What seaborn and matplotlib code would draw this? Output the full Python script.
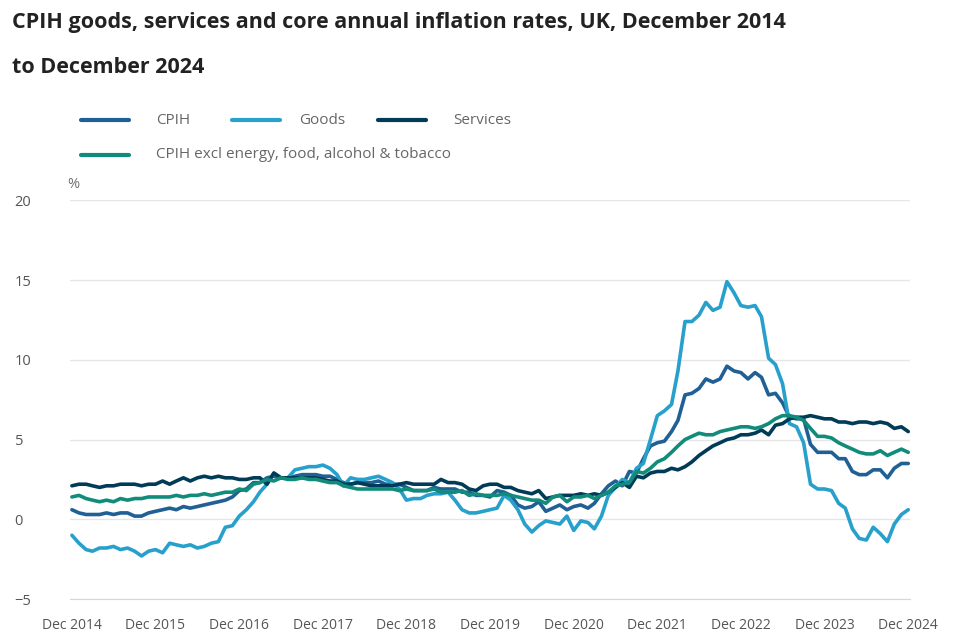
import numpy as np
import pandas as pd
import seaborn as sns
from matplotlib import pyplot as plt

months = pd.date_range('2014-12-01', '2024-12-01', freq='MS')

cpih = [0.6,
        0.4, 0.3, 0.3, 0.3, 0.4, 0.3, 0.4, 0.4, 0.2, 0.2, 0.4, 0.5,
        0.6, 0.7, 0.6, 0.8, 0.7, 0.8, 0.9, 1.0, 1.1, 1.2, 1.4, 1.8,
        1.9, 2.3, 2.3, 2.6, 2.7, 2.6, 2.6, 2.7, 2.8, 2.8, 2.8, 2.7,
        2.7, 2.5, 2.3, 2.2, 2.3, 2.3, 2.3, 2.4, 2.2, 2.2, 2.2, 2.0,
        1.8, 1.8, 1.8, 2.0, 1.9, 1.9, 1.9, 1.7, 1.7, 1.5, 1.5, 1.4,
        1.8, 1.7, 1.5, 0.9, 0.7, 0.8, 1.1, 0.5, 0.7, 0.9, 0.6, 0.8,
        0.9, 0.7, 1.0, 1.6, 2.1, 2.4, 2.1, 3.0, 2.9, 3.8, 4.6, 4.8,
        4.9, 5.5, 6.2, 7.8, 7.9, 8.2, 8.8, 8.6, 8.8, 9.6, 9.3, 9.2,
        8.8, 9.2, 8.9, 7.8, 7.9, 7.3, 6.4, 6.3, 6.3, 4.7, 4.2, 4.2,
        4.2, 3.8, 3.8, 3.0, 2.8, 2.8, 3.1, 3.1, 2.6, 3.2, 3.5, 3.5]

goods = [-1.0,
         -1.5, -1.9, -2.0, -1.8, -1.8, -1.7, -1.9, -1.8, -2.0, -2.3, -2.0, -1.9,
         -2.1, -1.5, -1.6, -1.7, -1.6, -1.8, -1.7, -1.5, -1.4, -0.5, -0.4, 0.2,
         0.6, 1.1, 1.7, 2.2, 2.9, 2.6, 2.6, 3.1, 3.2, 3.3, 3.3, 3.4,
         3.2, 2.8, 2.1, 2.6, 2.5, 2.5, 2.6, 2.7, 2.5, 2.3, 1.9, 1.2,
         1.3, 1.3, 1.5, 1.6, 1.6, 1.7, 1.2, 0.6, 0.4, 0.4, 0.5, 0.6,
         0.7, 1.5, 1.2, 0.6, -0.3, -0.8, -0.4, -0.1, -0.2, -0.3, 0.2, -0.7,
         -0.1, -0.2, -0.6, 0.2, 1.5, 2.0, 2.5, 2.3, 3.2, 3.5, 5.0, 6.5,
         6.8, 7.2, 9.3, 12.4, 12.4, 12.8, 13.6, 13.1, 13.3, 14.9, 14.2, 13.4,
         13.3, 13.4, 12.7, 10.1, 9.7, 8.5, 6.0, 5.8, 4.8, 2.2, 1.9, 1.9,
         1.8, 1.0, 0.7, -0.6, -1.2, -1.3, -0.5, -0.9, -1.4, -0.3, 0.3, 0.6]

services = [2.1,
            2.2, 2.2, 2.1, 2.0, 2.1, 2.1, 2.2, 2.2, 2.2, 2.1, 2.2, 2.2,
            2.4, 2.2, 2.4, 2.6, 2.4, 2.6, 2.7, 2.6, 2.7, 2.6, 2.6, 2.5,
            2.5, 2.6, 2.6, 2.2, 2.9, 2.6, 2.6, 2.6, 2.6, 2.6, 2.6, 2.5,
            2.4, 2.4, 2.2, 2.2, 2.3, 2.2, 2.1, 2.1, 2.1, 2.1, 2.2, 2.3,
            2.2, 2.2, 2.2, 2.2, 2.5, 2.3, 2.3, 2.2, 1.9, 1.8, 2.1, 2.2,
            2.2, 2.0, 2.0, 1.8, 1.7, 1.6, 1.8, 1.3, 1.4, 1.5, 1.5, 1.5,
            1.6, 1.5, 1.6, 1.5, 1.7, 2.0, 2.3, 2.0, 2.7, 2.6, 2.9, 3.0,
            3.0, 3.2, 3.1, 3.3, 3.6, 4.0, 4.3, 4.6, 4.8, 5.0, 5.1, 5.3,
            5.3, 5.4, 5.6, 5.3, 5.9, 6.0, 6.3, 6.4, 6.4, 6.5, 6.4, 6.3,
            6.3, 6.1, 6.1, 6.0, 6.1, 6.1, 6.0, 6.1, 6.0, 5.7, 5.8, 5.5]

core = [1.4,
        1.5, 1.3, 1.2, 1.1, 1.2, 1.1, 1.3, 1.2, 1.3, 1.3, 1.4, 1.4,
        1.4, 1.4, 1.5, 1.4, 1.5, 1.5, 1.6, 1.5, 1.6, 1.7, 1.7, 1.9,
        1.8, 2.2, 2.3, 2.5, 2.4, 2.6, 2.5, 2.5, 2.6, 2.5, 2.5, 2.4,
        2.3, 2.3, 2.1, 2.0, 1.9, 1.9, 1.9, 1.9, 1.9, 1.9, 1.8, 1.9,
        1.8, 1.8, 1.8, 1.9, 1.7, 1.7, 1.7, 1.8, 1.5, 1.6, 1.5, 1.5,
        1.5, 1.6, 1.5, 1.4, 1.3, 1.2, 1.2, 1.0, 1.4, 1.5, 1.1, 1.4,
        1.4, 1.5, 1.3, 1.5, 1.7, 2.1, 2.2, 2.3, 3.0, 2.9, 3.2, 3.6,
        3.8, 4.2, 4.6, 5.0, 5.2, 5.4, 5.3, 5.3, 5.5, 5.6, 5.7, 5.8,
        5.8, 5.7, 5.8, 6.0, 6.3, 6.5, 6.5, 6.4, 6.2, 5.7, 5.2, 5.2,
        5.1, 4.8, 4.6, 4.4, 4.2, 4.1, 4.1, 4.3, 4.0, 4.2, 4.4, 4.2]

names = ['CPIH', 'Goods', 'Services', 'CPIH excl energy, food, alcohol & tobacco']
data = pd.DataFrame({'Month': months, names[0]: cpih, names[1]: goods,
                     names[2]: services, names[3]: core})
long_data = data.melt(id_vars='Month', var_name='Series', value_name='Rate')

palette = {names[0]: '#206095', names[1]: '#27a0cc', names[2]: '#003c57', names[3]: '#118c7b'}

sns.set_style('white')
plt.rcParams['font.family'] = ['Open Sans', 'DejaVu Sans']

fig = plt.figure(figsize=(9.6, 6.4), dpi=100)
ax = fig.add_axes([0.073, 0.064, 0.875, 0.623])

sns.lineplot(data=long_data, x='Month', y='Rate', hue='Series', palette=palette,
             linewidth=2.6, ax=ax, legend=False)

ax.set_ylim(-5, 20)
ax.set_yticks([-5, 0, 5, 10, 15, 20])
ax.set_xlim(months[0] - pd.Timedelta(days=8), months[-1] + pd.Timedelta(days=8))
dec_ticks = pd.date_range('2014-12-01', '2024-12-01', freq='12MS')
ax.set_xticks(dec_ticks)
ax.set_xticklabels([d.strftime('Dec %Y') for d in dec_ticks])
ax.grid(axis='y', color='#e6e6e6', linewidth=1)
for side in ['top', 'right', 'left']:
    ax.spines[side].set_visible(False)
ax.spines['bottom'].set_color('#d0d8e8')
ax.tick_params(axis='x', colors='#d0d8e8', labelcolor='#555555', length=10,
               labelsize=10, direction='out')
ax.tick_params(axis='y', length=0, labelcolor='#555555', labelsize=10.5)
for lbl in ax.get_yticklabels():
    lbl.set_horizontalalignment('left')
ax.yaxis.set_tick_params(pad=40)
ax.set_xlabel('')
ax.set_ylabel('')
ax.text(-0.003, 1.03, '%', transform=ax.transAxes, color='#707070', fontsize=10.5)

fig.text(0.012, 0.965, 'CPIH goods, services and core annual inflation rates, UK, December 2014',
         fontsize=15.5, fontweight='bold', color='#222222', va='center')
fig.text(0.012, 0.895, 'to December 2024', fontsize=15.5, fontweight='bold',
         color='#222222', va='center')

# legend: (name, line start, text start, y)
legend_items = [(names[0], 0.084, 0.163, 0.812), (names[1], 0.242, 0.312, 0.812),
                (names[2], 0.394, 0.472, 0.812), (names[3], 0.084, 0.163, 0.758)]
for name, x, tx, y in legend_items:
    fig.add_artist(plt.Line2D([x, x + 0.05], [y, y], color=palette[name], linewidth=3,
                              transform=fig.transFigure))
    fig.text(tx, y, name, fontsize=11, color='#666666', va='center')

fig.savefig('out.png', dpi=100)
